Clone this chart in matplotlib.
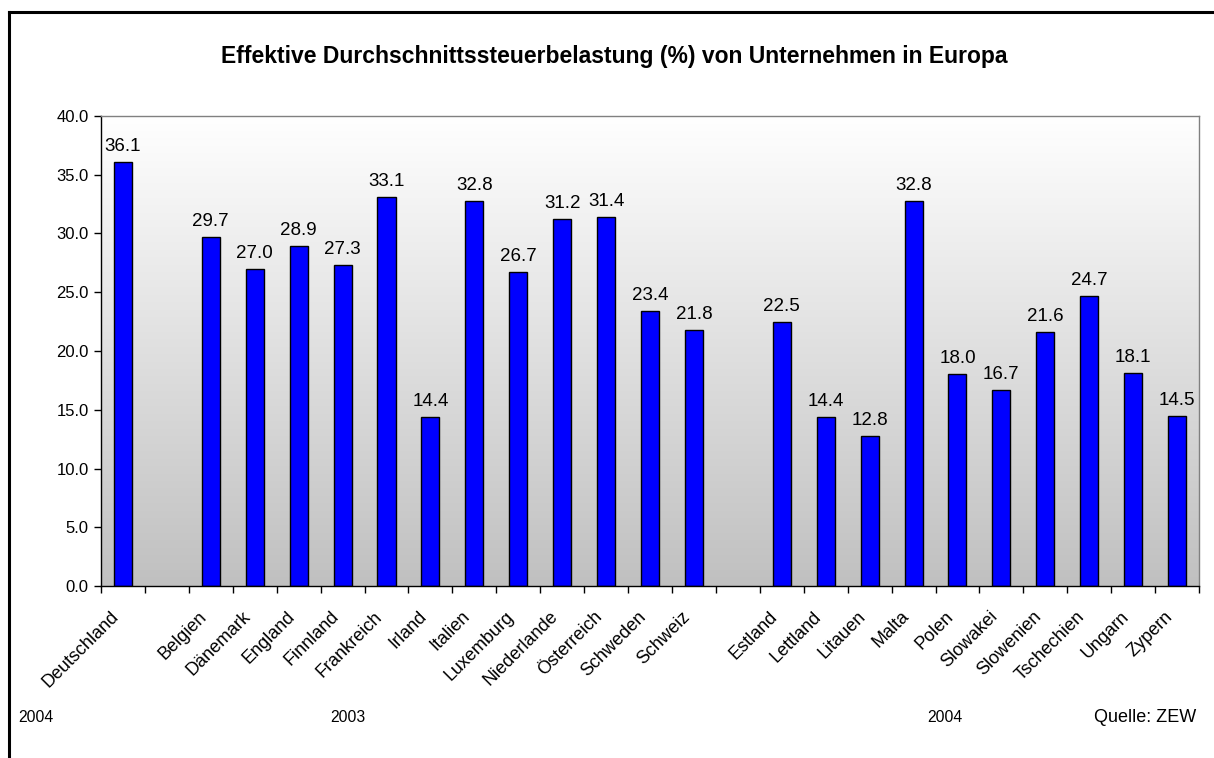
import numpy as np
import matplotlib
matplotlib.use('Agg')
import matplotlib.pyplot as plt
from matplotlib.colors import LinearSegmentedColormap
from matplotlib.lines import Line2D

plt.rcParams['font.family'] = ['Liberation Sans', 'DejaVu Sans']

# '' marks an empty slot between the country groups
countries = ['Deutschland', '',
             'Belgien', 'Dänemark', 'England', 'Finnland', 'Frankreich', 'Irland',
             'Italien', 'Luxemburg', 'Niederlande', 'Österreich', 'Schweden', 'Schweiz', '',
             'Estland', 'Lettland', 'Litauen', 'Malta', 'Polen', 'Slowakei',
             'Slowenien', 'Tschechien', 'Ungarn', 'Zypern']
values = [36.1, None,
          29.7, 27.0, 28.9, 27.3, 33.1, 14.4,
          32.8, 26.7, 31.2, 31.4, 23.4, 21.8, None,
          22.5, 14.4, 12.8, 32.8, 18.0, 16.7,
          21.6, 24.7, 18.1, 14.5]
year_labels = ['2004', '2003', '2004']

fig = plt.figure(figsize=(12.14, 7.58), dpi=100)
ax = fig.add_axes([0.0832, 0.2269, 0.9045, 0.6201])

# gradient background of the plot area (white -> grey)
cmap = LinearSegmentedColormap.from_list('bg', ['#c0c0c0', '#ffffff'])
grad = np.linspace(0, 1, 256).reshape(-1, 1)
ax.imshow(grad, cmap=cmap, aspect='auto', extent=[0, 1, 0, 1],
          transform=ax.transAxes, origin='lower', zorder=0)

x = np.arange(len(countries))
for xi, v in zip(x, values):
    if v is None:
        continue
    ax.bar(xi, v, width=0.41, color='#0000ff', edgecolor='black', linewidth=1.0, zorder=2)
    ax.text(xi, v + 0.6, f'{v:.1f}', ha='center', va='bottom', fontsize=13.5, zorder=3)

ax.set_xlim(-0.5, len(countries) - 0.5)
ax.set_ylim(0, 40)
ax.set_yticks(np.arange(0, 40.1, 5))
ax.set_yticklabels([f'{t:.1f}' for t in np.arange(0, 40.1, 5)], fontsize=12)

# category ticks sit between the slots, labels under the slots
ax.set_xticks(np.arange(-0.5, len(countries), 1))
ax.set_xticklabels([])
ax.set_xticks(x - 0.08, minor=True)
ax.set_xticklabels(countries, minor=True, rotation=45, ha='right', va='baseline',
                   rotation_mode='anchor', fontsize=13)
ax.tick_params(axis='x', which='minor', length=0, pad=22.5)
ax.tick_params(axis='x', which='major', length=5, direction='out', width=1)
ax.tick_params(axis='y', length=5, direction='out', width=1, pad=4)

for side in ['top', 'right']:
    ax.spines[side].set_color('#808080')
    ax.spines[side].set_linewidth(1)
for side in ['left', 'bottom']:
    ax.spines[side].set_color('black')
    ax.spines[side].set_linewidth(1)

fig.text(614 / 1214, 1 - 57 / 758, 'Effektive Durchschnittssteuerbelastung (%) von Unternehmen in Europa',
         ha='center', va='center', fontsize=16.5, fontweight='bold')

year_x = [18, 330, 927]
for xp, lab in zip(year_x, year_labels):
    fig.text(xp / 1214, 1 - 717 / 758, lab, ha='left', va='center', fontsize=11.3)
fig.text(1196 / 1214, 1 - 717 / 758, 'Quelle: ZEW', ha='right', va='center', fontsize=13)

# outer frame lines (left and top)
fig.add_artist(Line2D([9 / 1214, 9 / 1214], [0, 1 - 12 / 758], color='black', lw=2.2,
                      transform=fig.transFigure))
fig.add_artist(Line2D([9 / 1214, 1], [1 - 12 / 758, 1 - 12 / 758], color='black', lw=2.2,
                      transform=fig.transFigure))

fig.savefig('out.png', dpi=100)
